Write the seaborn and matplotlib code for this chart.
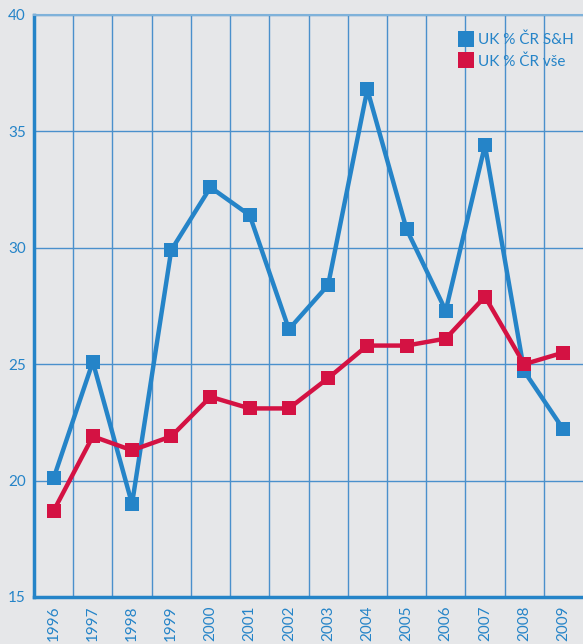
import pandas as pd
import matplotlib
matplotlib.use('Agg')
import matplotlib.pyplot as plt
from matplotlib.lines import Line2D
import seaborn as sns

years = list(range(1996, 2010))
sh_values = [20.1, 25.1, 19.0, 29.9, 32.6, 31.4, 26.5, 28.4, 36.8, 30.8, 27.3, 34.4, 24.7, 22.2]
all_values = [18.7, 21.9, 21.3, 21.9, 23.6, 23.1, 23.1, 24.4, 25.8, 25.8, 26.1, 27.9, 25.0, 25.5]
series_names = ['UK % ČR S&H', 'UK % ČR vše']
colors = ['#2584c8', '#d41243']
y_ticks = [15, 20, 25, 30, 35, 40]

df = pd.concat([
    pd.DataFrame({'rok': years, 'hodnota': sh_values, 'serie': series_names[0]}),
    pd.DataFrame({'rok': years, 'hodnota': all_values, 'serie': series_names[1]}),
])

sns.set_style('white')
plt.rcParams['font.family'] = ['Lato', 'DejaVu Sans']
bg = '#e6e7e9'
grid_c = '#4a90cc'

fig = plt.figure(figsize=(5.83, 6.44), dpi=100, facecolor=bg)
ax = fig.add_axes([34 / 583, 47 / 644, 1 - 34 / 583, 582 / 644])
ax.set_facecolor(bg)

sns.lineplot(data=df, x='rok', y='hodnota', hue='serie', palette=colors,
             style='serie', markers=['s', 's'], dashes=False,
             linewidth=3.2, markersize=10, markeredgewidth=0, legend=False, ax=ax)

ax.set_xlim(years[0] - 0.5, years[-1] + 0.5)
ax.set_ylim(15, 40)
ax.set_xticks(years)
ax.set_xticklabels([str(y) for y in years], rotation=90)
ax.set_xticks([y + 0.5 for y in years[:-1]], minor=True)
ax.set_yticks(y_ticks)
ax.grid(False)
ax.grid(True, which='minor', axis='x', color=grid_c, linewidth=1.0)
ax.grid(True, which='major', axis='y', color=grid_c, linewidth=1.0)
ax.set_axisbelow(True)
ax.tick_params(axis='both', which='both', length=0, labelcolor='#2584c8', labelsize=11)
ax.tick_params(axis='y', pad=6)
ax.tick_params(axis='x', pad=6)
ax.set_xlabel('')
ax.set_ylabel('')

for side in ['left', 'bottom']:
    ax.spines[side].set_color('#2584c8')
    ax.spines[side].set_linewidth(2.5)
ax.spines['top'].set_color('#7fb2da')
ax.spines['top'].set_linewidth(1.5)
ax.spines['right'].set_visible(False)

handles = [Line2D([], [], linestyle='none', marker='s', markersize=11,
                  markerfacecolor=c, markeredgewidth=0) for c in colors]
leg = ax.legend(handles, series_names, loc='upper right', bbox_to_anchor=(1.0, 0.985),
                frameon=False, fontsize=11, handlelength=0.8, handletextpad=0.4,
                labelspacing=0.45, borderaxespad=0.2)
for t in leg.get_texts():
    t.set_color('#2584c8')

fig.savefig('out.png', dpi=100, facecolor=bg)
